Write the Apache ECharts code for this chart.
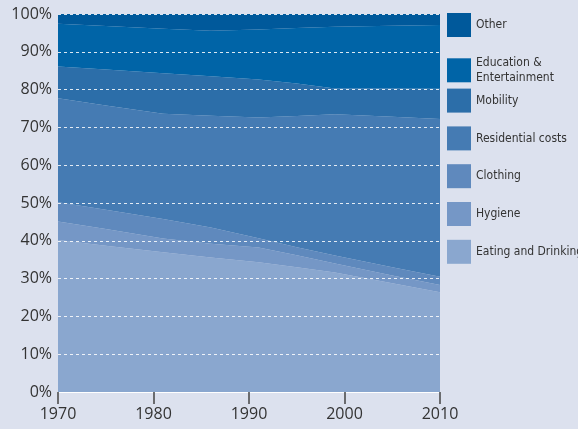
<!DOCTYPE html>
<html>
<head>
<meta charset="utf-8">
<script src="https://cdn.jsdelivr.net/npm/echarts@6/dist/echarts.min.js"></script>
<style>
  html, body { margin: 0; padding: 0; background: #dce1ee; }
  #chart { width: 578px; height: 429px; }
</style>
</head>
<body>
<div id="chart"></div>
<script>
// Household spending shares (% of total consumption)
const years = [1970, 1975, 1981, 1986, 1991, 1995, 1999, 2005, 2010];

const eating      = [40.2, 38.7, 37.0, 35.6, 34.3, 33.0, 31.6, 28.8, 26.4];
const hygiene     = [4.9, 4.4, 3.6, 3.6, 3.9, 3.2, 2.4, 2.0, 1.9];
const clothing    = [5.1, 5.1, 5.2, 4.3, 2.5, 2.1, 2.1, 2.2, 2.2];
const residential = [27.5, 27.6, 27.8, 29.6, 31.9, 34.7, 37.4, 39.8, 41.7];
const mobility    = [8.4, 9.5, 10.7, 10.4, 10.1, 8.6, 6.8, 7.5, 8.0];
const education   = [11.3, 11.5, 11.8, 12.1, 13.2, 14.7, 16.3, 16.6, 16.9];
const other       = [2.6, 3.2, 3.9, 4.4, 4.1, 3.7, 3.4, 3.1, 2.9];

const seriesNames = ['Eating and Drinking', 'Hygiene', 'Clothing', 'Residential costs',
                     'Mobility', 'Education & Entertainment', 'Other'];
const seriesValues = [eating, hygiene, clothing, residential, mobility, education, other];
const legendLabels = {
  'Education & Entertainment': 'Education &\nEntertainment'
};

const colors = ['#8aa7cf', '#7597c6', '#5f89bd', '#457bb3', '#2c6ea9', '#0064a7', '#00599b'];

const chart = echarts.init(document.getElementById('chart'));

// share goes first in each pair so the stack is built on the share, not the year
const series = seriesNames.map((name, i) => ({
  name: name,
  type: 'line',
  stack: 'total',
  symbol: 'none',
  encode: { x: 1, y: 0 },
  lineStyle: { width: 0 },
  areaStyle: { color: colors[i], opacity: 1 },
  itemStyle: { color: colors[i] },
  emphasis: { disabled: true },
  data: years.map((y, k) => [seriesValues[i][k], y])
}));

// legend: one entry per row, top entry = top band
const legendOrder = seriesNames.slice().reverse();
const legends = legendOrder.map((name, i) => ({
  data: [name],
  left: 447,
  top: 13 + i * 37.8,
  padding: 0,
  orient: 'vertical',
  itemWidth: 24,
  itemHeight: 24,
  icon: 'rect',
  itemGap: 0,
  selectedMode: false,
  formatter: n => legendLabels[n] || n,
  textStyle: {
    fontFamily: 'DejaVu Sans Condensed, sans-serif',
    fontSize: 12,
    color: '#333',
    lineHeight: 15.5,
    padding: legendLabels[name] ? [8, 0, 0, 0] : [0, 0, 6, 0]
  }
}));

chart.setOption({
  backgroundColor: '#dce1ee',
  animation: false,
  grid: { left: 58, right: 138, top: 14, bottom: 37 },
  legend: legends,
  xAxis: {
    type: 'value',
    min: 1970,
    max: 2010,
    interval: 10,
    z: 10,
    axisLine: { show: true, lineStyle: { color: '#ffffff', width: 1 } },
    axisTick: { show: true, length: 12, lineStyle: { color: '#444', width: 1.5 } },
    axisLabel: {
      formatter: v => String(v),
      fontFamily: 'Open Sans, sans-serif',
      fontSize: 16,
      color: '#333',
      margin: 14
    },
    splitLine: { show: false }
  },
  yAxis: {
    type: 'value',
    min: 0,
    max: 100,
    interval: 10,
    z: 10,
    axisLine: { show: false },
    axisTick: { show: false },
    axisLabel: {
      formatter: '{value}%',
      fontFamily: 'Open Sans, sans-serif',
      fontSize: 16,
      color: '#333',
      margin: 6
    },
    splitLine: {
      show: true,
      lineStyle: { color: 'rgba(255,255,255,0.85)', width: 1, type: [3, 3] }
    }
  },
  series: series
});
</script>
</body>
</html>
